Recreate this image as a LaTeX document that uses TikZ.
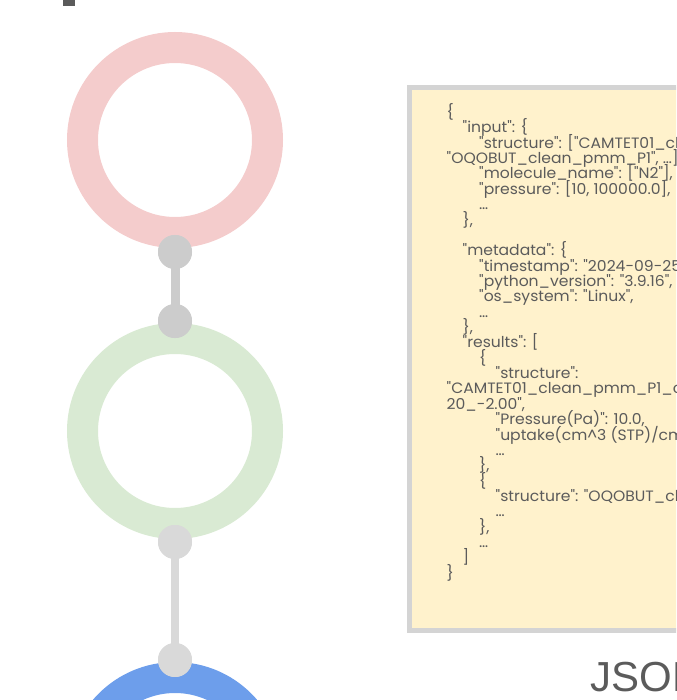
\documentclass[tikz,border=0pt]{standalone}
\usepackage{fontspec}
\setmainfont{Poppins}
\newfontfamily\jsonfont{Poppins}[FakeStretch=1.04]
\newfontfamily\capfont{Liberation Sans}
\definecolor{ringpink}{HTML}{F4CCCC}
\definecolor{ringgreen}{HTML}{D9EAD3}
\definecolor{ringblue}{HTML}{6D9EEB}
\definecolor{dotdark}{HTML}{CCCCCC}
\definecolor{dotlight}{HTML}{D9D9D9}
\definecolor{boxfill}{HTML}{FFF2CC}
\definecolor{boxline}{HTML}{D4D4D4}
\definecolor{txt}{HTML}{5B5B5B}
\tikzset{
  ring/.style={line width=31pt},
  dotnode/.style={circle, minimum size=34pt, inner sep=0pt},
  jsonline/.style={anchor=base west, inner sep=0pt, text=txt, font=\jsonfont\fontsize{15}{15.4}\selectfont},
}
\newcommand\jl[3]{\node[jsonline] (j#1) at (#2, 117.5+15.36*#1-15.36) {#3};}
\begin{document}
\begin{tikzpicture}[x=1pt,y=-1pt]
\useasboundingbox (0,0) rectangle (676,700);
\begin{scope}
\clip (0,0) rectangle (676,700);
% title fragment
\fill[txt] (63,0) rectangle (75,6);
% rings
\draw[ring, ringpink] (175,140) circle[radius=92.5pt];
\draw[ring, ringgreen] (175,431) circle[radius=92.5pt];
\draw[ring, ringblue] (175,770) circle[radius=92.5pt];
% connectors
\node[dotnode, fill=dotdark] (d1) at (175,252) {};
\node[dotnode, fill=dotdark] (d2) at (175,321) {};
\node[dotnode, fill=dotlight] (d3) at (175,542) {};
\node[dotnode, fill=dotlight] (d4) at (175,660) {};
\draw[dotdark, line width=9pt] (d1.center) -- (d2.center);
\draw[dotlight, line width=8pt] (d3.center) -- (d4.center);
\node[dotnode, fill=dotdark] at (d1) {};
\node[dotnode, fill=dotdark] at (d2) {};
\node[dotnode, fill=dotlight] at (d3) {};
\node[dotnode, fill=dotlight] at (d4) {};
% json box
\draw[boxline, fill=boxfill, line width=5pt] (409.5,87.5) rectangle (700,630.5);
\jl{1}{446.5}{\{}
\jl{2}{462.5}{"input": \{}
\jl{3}{479}{"structure": ["CAMTET01\_clean\_pmm\_P1",}
\jl{4}{446.5}{"OQOBUT\_clean\_pmm\_P1", …],}
\jl{5}{479}{"molecule\_name": ["N2"],}
\jl{6}{479}{"pressure": [10, 100000.0],}
\jl{7}{479}{…}
\jl{8}{462.5}{\},}
\jl{10}{462.5}{"metadata": \{}
\jl{11}{479}{"timestamp": "2024-09-25",}
\jl{12}{479}{"python\_version": "3.9.16",}
\jl{13}{479}{"os\_system": "Linux",}
\jl{14}{479}{…}
\jl{15}{462.5}{\},}
\jl{16}{462.5}{"results": [}
\jl{17}{479}{\{}
\jl{18}{495.5}{"structure":}
\jl{19}{446.5}{"CAMTET01\_clean\_pmm\_P1\_c}
\jl{20}{446.5}{20\_-2.00",}
\jl{21}{495.5}{"Pressure(Pa)": 10.0,}
\jl{22}{495.5}{"uptake(cm\textasciicircum 3 (STP)/cm\textasciicircum 3)":}
\jl{23}{495.5}{…}
\jl{24}{479}{\},}
\jl{25}{479}{\{}
\jl{26}{495.5}{"structure": "OQOBUT\_clean\_pmm\_P1",}
\jl{27}{495.5}{…}
\jl{28}{479}{\},}
\jl{29}{479}{…}
\jl{30}{462.5}{]}
\jl{31}{446.5}{\}}
% caption
\node[anchor=base west, inner sep=0pt, text=txt, font=\capfont\fontsize{42}{48}\selectfont] (cap) at (590.5,691.7) {JSON};
\end{scope}
\end{tikzpicture}
\end{document}
